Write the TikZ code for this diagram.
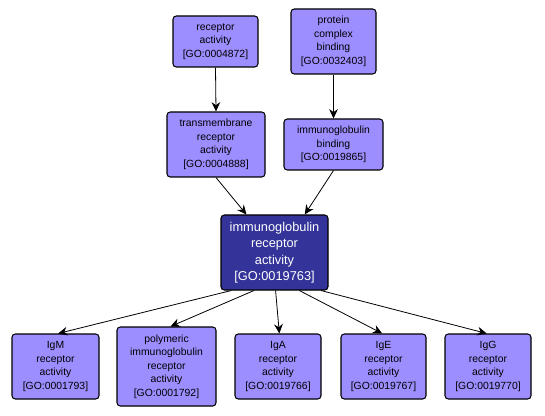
\documentclass[tikz,border=0pt]{standalone}
\usepackage{fontspec}
\setmainfont{Liberation Sans}
\usetikzlibrary{arrows.meta,calc}
\definecolor{termfill}{HTML}{9C8EFF}
\definecolor{focusfill}{HTML}{333399}
\tikzset{
  term/.style={draw=black, line width=0.8pt, rounded corners=2.5pt, fill=termfill,
    inner sep=0pt, align=center, font=\fontsize{7.8}{10.1}\selectfont},
  focus/.style={term, fill=focusfill, text=white, font=\fontsize{9.6}{12.3}\selectfont},
  edge/.style={-{Stealth[length=7pt,width=6.5pt]}, line width=0.6pt}
}
\begin{document}
\begin{tikzpicture}[x=0.75pt,y=-0.75pt]
\useasboundingbox[fill=white] (0,0) rectangle (545,416);
\node[term, minimum width=63.75pt, minimum height=38.25pt] (ra) at (215.5,41.5) {receptor\\activity\\{[GO:0004872]}};
\node[term, minimum width=63.75pt, minimum height=48.75pt] (pcb) at (333.5,41.5) {protein\\complex\\binding\\{[GO:0032403]}};
\node[term, minimum width=73.5pt, minimum height=48.75pt] (tm) at (216,144.5) {transmembrane\\receptor\\activity\\{[GO:0004888]}};
\node[term, minimum width=74.25pt, minimum height=38.25pt] (igb) at (333.5,144.5) {immunoglobulin\\binding\\{[GO:0019865]}};
\node[focus, minimum width=80.25pt, minimum height=56.25pt] (c) at (274.5,252.5) {immunoglobulin\\receptor\\activity\\{[GO:0019763]}};
\node[term, minimum width=65.25pt, minimum height=48.75pt] (igm) at (55.5,366.5) {IgM\\receptor\\activity\\{[GO:0001793]}};
\node[term, minimum width=74.25pt, minimum height=59.25pt] (poly) at (166.5,366.5) {polymeric\\immunoglobulin\\receptor\\activity\\{[GO:0001792]}};
\node[term, minimum width=64.5pt, minimum height=48.75pt] (iga) at (278,366.5) {IgA\\receptor\\activity\\{[GO:0019766]}};
\node[term, minimum width=63.75pt, minimum height=48.75pt] (ige) at (383.5,366.5) {IgE\\receptor\\activity\\{[GO:0019767]}};
\node[term, minimum width=64.5pt, minimum height=48.75pt] (igg) at (488,366.5) {IgG\\receptor\\activity\\{[GO:0019770]}};
\draw[edge] (ra.south) -- (tm.north);
\draw[edge] (pcb.south) -- (igb.north);
\draw[edge] (tm.south) -- ($(c.north west)!0.24!(c.north east)$);
\draw[edge] (igb.south) -- ($(c.north west)!0.78!(c.north east)$);
\draw[edge] ($(c.south west)!0.10!(c.south east)$) -- ([xshift=2pt]igm.north);
\draw[edge] ($(c.south west)!0.31!(c.south east)$) -- ([xshift=3pt]poly.north);
\draw[edge] ($(c.south west)!0.51!(c.south east)$) -- ([xshift=1pt]iga.north);
\draw[edge] ($(c.south west)!0.73!(c.south east)$) -- ([xshift=-1pt]ige.north);
\draw[edge] ($(c.south west)!0.93!(c.south east)$) -- ([xshift=-1pt]igg.north);
\end{tikzpicture}
\end{document}
